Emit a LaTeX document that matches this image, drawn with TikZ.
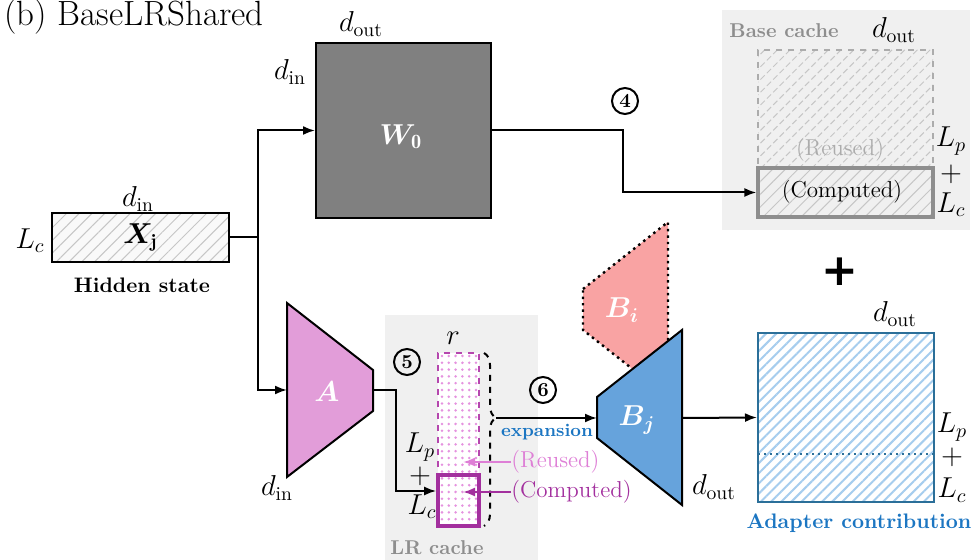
\documentclass[tikz,border=0pt]{standalone}
\usepackage{amsmath,bm}
\usepackage{fontspec}
\newfontfamily\dejavu{DejaVu Sans}
\usetikzlibrary{patterns.meta,arrows.meta,decorations.pathreplacing,fit}
\definecolor{cachebg}{HTML}{F0F0F0}
\definecolor{wgray}{HTML}{808080}
\definecolor{apink}{HTML}{E29DD9}
\definecolor{bblue}{HTML}{66A3DC}
\definecolor{bred}{HTML}{F9A3A3}
\definecolor{lrpurple}{HTML}{A3309E}
\definecolor{lrdash}{HTML}{B547AE}
\definecolor{lrpink}{HTML}{DE7FD6}
\definecolor{dotpink}{HTML}{E592DF}
\definecolor{expblue}{HTML}{1C76C2}
\definecolor{adborder}{HTML}{2B6F99}
\definecolor{adhatch}{HTML}{A6CDEE}
\definecolor{basegray}{HTML}{8E8E8E}
\tikzset{
  arr/.style={line width=1pt,-{Latex[length=6pt,width=4.5pt]}},
  conn/.style={line width=1pt},
  mlbl/.style={font=\fontsize{14}{16}\selectfont, inner sep=0pt},
  tlbl/.style={font=\fontsize{11.5}{13}\selectfont, inner sep=0pt},
  blbl/.style={font=\fontsize{10}{12}\selectfont\bfseries, inner sep=0pt},
  numc/.style={draw, circle, line width=1pt, minimum size=13pt, inner sep=0pt, font=\fontsize{10}{10}\selectfont\bfseries},
  rectfit/.style={inner sep=0pt},
  hatchgray/.style={pattern={Lines[angle=45,distance=4.5pt,line width=0.5pt]}, pattern color=gray!45},
  hatchblue/.style={pattern={Lines[angle=45,distance=3.6pt,line width=1pt]}, pattern color=adhatch},
  dotsfill/.style={pattern={Dots[distance=3.4pt,radius=0.7pt]}, pattern color=dotpink},
  wlbl/.style={text=white, inner sep=0pt},
}
\begin{document}
\begin{tikzpicture}[x=0.5pt,y=-0.5pt]
\useasboundingbox (0,0) rectangle (974,560);

% title
\node[anchor=base west, font=\fontsize{17.5}{20}\selectfont, inner sep=0pt] (title) at (4,26) {(b) BaseLRShared};

% backgrounds
\node[fill=cachebg, fit={(722,10)(970,230)}, rectfit] (basebg) {};
\node[fill=cachebg, fit={(385,315)(538,560)}, rectfit] (lrbg) {};

% hidden state
\node[draw, line width=1pt, preaction={fill=gray!5}, hatchgray, fit={(52,213)(229,262)}, rectfit] (X) {};
\node[font=\fontsize{13.5}{15}\selectfont, inner sep=0pt] (Xl) at (X.center) {$\bm{X}_{\mathbf{j}}$};
\node[mlbl] (xdin) at (138,199) {$d_{\text{in}}$};
\node[mlbl] (xlc) at (30,241) {$L_c$};
\node[blbl, font=\fontsize{10.5}{12}\selectfont\bfseries] (hs) at (142,285) {Hidden state};

% W0
\node[draw, line width=1pt, fill=wgray, fit={(316,43)(491,218)}, rectfit] (W0) {};
\node[wlbl, font=\fontsize{14.5}{16}\selectfont] (W0l) at (401,137) {$\bm{W}_{\mathbf{0}}$};
\node[mlbl] (wdout) at (361,24) {$d_{\text{out}}$};
\node[mlbl] (wdin) at (290,72) {$d_{\text{in}}$};

% connectors from X
\coordinate (J) at (258,237.5);
\coordinate (Ain) at (287,390);
\draw[conn] (X.east) -- (J);
\draw[arr] (J) |- (W0.west);
\draw[arr] (J) |- (Ain);

% base cache
\node[blbl, text=basegray] (bctext) at (784,31) {Base cache};
\node[mlbl] (bcdout) at (894,30) {$d_{\text{out}}$};
\node[draw=gray!65, dashed, line width=0.8pt, hatchgray, fit={(758,50)(933,168)}, rectfit] (Reu) {};
\node[draw=basegray, line width=1.6pt, hatchgray, fit={(758,168)(933,217)}, rectfit] (Comp) {};
\node[tlbl, text=gray!65] (bcreu) at (840,150) {(Reused)};
\node[tlbl] (bccomp) at (842,192) {(Computed)};
\node[mlbl] (bclp) at (951,141) {$L_p$};
\node[mlbl] (bcplus) at (951,174) {$+$};
\node[mlbl] (bclc) at (951,205) {$L_c$};

\coordinate (k4) at (623,130.5);
\draw[arr] (W0.east) -- (k4) |- (Comp.west);
\node[numc] (n4) at (625,101) {4};

% big plus
\node[font=\dejavu\bfseries\fontsize{22}{22}\selectfont, inner sep=0pt] (bigplus) at (840,272) {+};

% A
\draw[line width=1pt, fill=apink] (287,303) -- (373,370) -- (373,411) -- (287,477) -- cycle;
\node[wlbl, font=\fontsize{15}{17}\selectfont] (Al) at (327,392) {$\bm{A}$};
\coordinate (Aout) at (373,390);
\node[mlbl] (adin) at (277,488) {$d_{\text{in}}$};

% LR cache
\node[blbl, text=basegray] (lrtext) at (437,548) {LR cache};
\node[draw=lrdash, dashed, line width=1pt, preaction={fill=white}, dotsfill, fit={(438,353)(479,475)}, rectfit] (LRr) {};
\node[draw=lrpurple, line width=1.8pt, preaction={fill=white}, dotsfill, fit={(438,475)(479,526)}, rectfit] (LRc) {};
\node[mlbl] (lrr) at (453,338) {$r$};
\node[mlbl] (lrlp) at (420,447) {$L_p$};
\node[mlbl] (lrplus) at (420,476) {$+$};
\node[mlbl] (lrlc) at (422,507) {$L_c$};

\coordinate (k5) at (396,491);
\draw[arr] (Aout) -| (k5) -- (LRc.west |- k5);
\node[numc] (n5) at (407,362) {5};

% brace
\draw[dashed, line width=1pt, decorate, decoration={brace, amplitude=6pt, aspect=0.375}] (484,353) -- (484,526);
\coordinate (brtip) at (496,418);

% reused / computed pointers
\node[tlbl, text=lrpink, anchor=west] (lrreu) at (511,462) {(Reused)};
\coordinate (rtip) at (463,462);
\draw[line width=1pt, draw=lrpink, -{Latex[length=6pt,width=4.5pt]}] (lrreu.west) -- (rtip);
\node[tlbl, text=lrpurple, anchor=west] (lrcomp) at (511,492) {(Computed)};
\coordinate (ctip) at (463,492);
\draw[line width=1pt, draw=lrpurple, -{Latex[length=6pt,width=4.5pt]}] (lrcomp.west) -- (ctip);

% B_i
\draw[dotted, line width=1.2pt, fill=bred] (583,289) -- (668,222) -- (668,397) -- (583,330) -- cycle;
\node[wlbl, font=\fontsize{14.5}{16}\selectfont] (Bil) at (622,310) {$\bm{B}_{\bm{i}}$};

% B_j
\draw[line width=1pt, fill=bblue] (597,397) -- (682,330) -- (682,505) -- (597,438) -- cycle;
\node[wlbl, font=\fontsize{14.5}{16}\selectfont] (Bjl) at (637,420) {$\bm{B}_{\bm{j}}$};
\coordinate (Bjin) at (597,418);
\coordinate (Bjout) at (682,418);
\node[mlbl] (bjdout) at (714,487) {$d_{\text{out}}$};

\draw[arr] (brtip) -- (Bjin);
\node[numc] (n6) at (543,390) {6};
\node[font=\fontsize{9}{11}\selectfont\bfseries, text=expblue, inner sep=0pt] (exp) at (547,432) {expansion};

% adapter
\node[draw=adborder, line width=1pt, preaction={fill=white}, hatchblue, fit={(758,333)(934,502)}, rectfit] (Ad) {};
\coordinate (ad1) at (758,454);
\coordinate (ad2) at (934,454);
\draw[adborder, dotted, line width=1pt] (ad1) -- (ad2);
\draw[arr] (Bjout) -- (Ad.west);
\node[mlbl] (addout) at (895,314) {$d_{\text{out}}$};
\node[mlbl] (adlp) at (952,427) {$L_p$};
\node[mlbl] (adplus) at (952,457) {$+$};
\node[mlbl] (adlc) at (952,490) {$L_c$};
\node[font=\fontsize{10.5}{12}\selectfont\bfseries, text=expblue, inner sep=0pt] (adtext) at (859,523) {Adapter contribution};
\end{tikzpicture}
\end{document}
